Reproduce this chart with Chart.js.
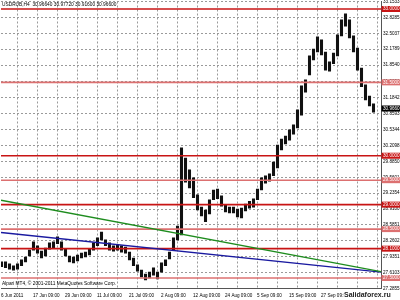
<!DOCTYPE html>
<html>
<head>
<meta charset="utf-8">
<script src="https://cdn.jsdelivr.net/npm/chart.js@4.4.0/dist/chart.umd.min.js"></script>
<style>
  html, body { margin: 0; padding: 0; background: #fff; }
</style>
</head>
<body>
<canvas id="grafico" width="400" height="300"></canvas>
<script>
// Máximos y mínimos diarios (USDRUB, un valor por día hábil)
const maximos = [
    27.83, 27.83, 27.79, 27.75, 27.79, 27.87, 27.93, 28.07, 28.24, 28.16,
    28.05, 28.11, 28.22, 28.24, 28.34, 28.24, 28.09, 27.95, 27.93, 27.97,
    28.01, 28.03, 28.09, 28.22, 28.32, 28.44, 28.28, 28.22, 28.16, 28.18,
    28.16, 28.13, 28.03, 27.91, 27.77, 27.66, 27.58, 27.62, 27.71, 27.62,
    27.81, 27.87, 28.03, 28.32, 28.56, 30.16, 29.95, 29.71, 29.55, 29.20,
    28.95, 28.89, 29.10, 29.30, 29.32, 29.18, 28.99, 28.95, 28.95, 28.91,
    28.93, 29.01, 29.07, 29.12, 29.32, 29.55, 29.59, 29.63, 29.87, 30.22,
    30.34, 30.40, 30.53, 30.63, 30.94, 31.43, 31.55, 32.04, 32.18, 32.43,
    32.37, 32.12, 31.92, 32.10, 32.47, 32.78, 32.90, 32.78, 32.45, 32.20,
    31.79, 31.45, 31.22, 31.06
];
const minimos = [
    27.73, 27.71, 27.68, 27.66, 27.68, 27.75, 27.83, 27.95, 28.07, 28.01,
    27.91, 27.95, 28.09, 28.11, 28.20, 28.07, 27.95, 27.83, 27.81, 27.85,
    27.91, 27.93, 27.97, 28.07, 28.16, 28.28, 28.16, 28.07, 28.05, 28.07,
    28.03, 28.01, 27.87, 27.75, 27.64, 27.52, 27.46, 27.50, 27.56, 27.48,
    27.62, 27.75, 27.89, 28.07, 28.28, 28.38, 29.46, 29.34, 29.14, 28.89,
    28.77, 28.65, 28.81, 29.10, 29.12, 28.97, 28.85, 28.83, 28.83, 28.75,
    28.73, 28.87, 28.93, 28.95, 29.10, 29.30, 29.44, 29.48, 29.59, 29.75,
    30.12, 30.24, 30.32, 30.44, 30.57, 30.83, 31.30, 31.65, 31.96, 32.12,
    32.06, 31.75, 31.73, 31.88, 32.04, 32.45, 32.65, 32.41, 32.12, 31.75,
    31.41, 31.14, 31.02, 30.89
];

// Niveles horizontales (rojo oscuro y rojo claro)
const nivelesOscuros = [33.0, 30.0, 29.0, 28.1];
const nivelesClaros = [31.5, 29.5, 28.5, 27.5];

// Líneas de tendencia: [día inicio, precio inicio, día fin, precio fin]
const tendenciaVerde = [1.375, 29.09, 96.375, 27.63];
const tendenciaAzul = [1.375, 28.43, 96.375, 27.62];

// Eje de precios
const preciosEje = [
    33.1533, 32.8285, 32.5037, 32.1789, 31.8540, 31.5091, 31.1842, 30.8593,
    30.5344, 30.2098, 29.8850, 29.5601, 29.2354, 28.9100, 28.5851, 28.2602,
    27.9351, 27.6103, 27.2855
];
const precioMin = 27.2855;
const precioMax = 33.1533;

// Eje de tiempo (en días hábiles desde el 6 Jun)
const diaMin = 1.375;
const diaMax = 96.375;
const diasEtiquetas = [1.375, 9.375, 17.375, 25.375, 33.375, 41.375, 49.375, 57.375, 65.375, 73.375, 81.375];
const textosEtiquetas = ['6 Jun 2011', '17 Jun 09:00', '29 Jun 09:00', '11 Jul 09:00', '21 Jul 09:00',
    '2 Aug 09:00', '12 Aug 09:00', '24 Aug 09:00', '5 Sep 09:00', '15 Sep 09:00', '27 Sep 09:00'];
const diasRejilla = [5.5, 10.5, 15.5, 20.5, 25.5, 30.5, 35.5, 40.5, 45.5, 50.5,
    55.5, 60.5, 65.5, 70.5, 75.5, 80.5, 85.5, 90.5, 95.5];

// Última vela (cabecera) y precio actual
const ultimaVela = [30.9664, 30.9772, 30.9160, 30.9660];
const precioActual = 30.9660;

const rojoOscuro = '#c81414';
const rojoClaro = '#dc7070';
const fuente = 'Liberation Sans';

function crearNivel(valor, color) {
    return {
        type: 'line',
        data: [{ x: diaMin, y: valor }, { x: diaMax, y: valor }],
        borderColor: color,
        borderWidth: 1.6,
        pointRadius: 0,
        order: 1
    };
}

function crearTendencia(t, color) {
    return {
        type: 'line',
        data: [{ x: t[0], y: t[1] }, { x: t[2], y: t[3] }],
        borderColor: color,
        borderWidth: 1.3,
        pointRadius: 0,
        order: 0
    };
}

const velas = maximos.map((alto, i) => ({ x: i + 1.5, y: [minimos[i], alto] }));

// Textos y cajas de precio dibujados sobre el gráfico
const textosMT4 = {
    id: 'textosMT4',
    afterDraw(chart) {
        const ctx = chart.ctx;
        const yEje = chart.scales.y;
        ctx.save();
        ctx.textBaseline = 'middle';
        ctx.textAlign = 'left';
        ctx.font = '4.8px "' + fuente + '"';
        ctx.fillStyle = '#000';
        ctx.fillText('USDRUB,H4  ' + ultimaVela.map(v => v.toFixed(5)).join(' '), 2, 5);
        ctx.fillText('Alpari MT4, © 2001-2011 MetaQuotes Software Corp.', 2, 284);

        function caja(valor, fondo) {
            const y = yEje.getPixelForValue(valor);
            ctx.fillStyle = fondo;
            ctx.fillRect(381.5, y - 3, 19, 6);
            ctx.fillStyle = '#fff';
            ctx.font = '4.6px "' + fuente + '"';
            ctx.fillText(valor.toFixed(4), 383, y);
        }
        nivelesOscuros.forEach(v => caja(v, rojoOscuro));
        nivelesClaros.forEach(v => caja(v, rojoClaro));
        caja(precioActual, '#000');

        ctx.font = 'bold 7px "' + fuente + '"';
        ctx.lineWidth = 2;
        ctx.strokeStyle = '#fff';
        ctx.strokeText('Salidaforex.ru', 344, 295);
        ctx.fillStyle = '#222';
        ctx.fillText('Salidaforex.ru', 344, 295);
        ctx.restore();
    }
};

const ctx = document.getElementById('grafico').getContext('2d');
new Chart(ctx, {
    type: 'bar',
    data: {
        datasets: [
            ...nivelesOscuros.map(v => crearNivel(v, rojoOscuro)),
            ...nivelesClaros.map(v => crearNivel(v, rojoClaro)),
            crearTendencia(tendenciaVerde, '#1e8c1e'),
            crearTendencia(tendenciaAzul, '#1a1aa0'),
            {
                type: 'bar',
                data: velas,
                backgroundColor: '#111',
                barThickness: 2.4,
                order: 10
            }
        ]
    },
    options: {
        responsive: false,
        animation: false,
        layout: { padding: { left: 1, top: 1.5, right: 0, bottom: 0 } },
        plugins: { legend: { display: false }, tooltip: { enabled: false } },
        scales: {
            x: {
                type: 'linear',
                position: 'bottom',
                offset: false,
                min: diaMin,
                max: diaMax,
                afterBuildTicks: s => { s.ticks = diasRejilla.map(v => ({ value: v })); },
                afterFit: s => { s.height = 0; s.paddingLeft = 0; s.paddingRight = 0; },
                grid: { offset: false, color: '#9a9a9a', lineWidth: 1, drawTicks: false },
                border: { display: false, dash: [2, 2] },
                ticks: { display: false }
            },
            xt: {
                type: 'linear',
                position: 'bottom',
                offset: false,
                min: diaMin,
                max: diaMax,
                afterBuildTicks: s => { s.ticks = diasEtiquetas.map(v => ({ value: v })); },
                afterFit: s => { s.height = 11.5; s.paddingLeft = 0; s.paddingRight = 0; },
                grid: { display: false, offset: false, drawTicks: false },
                border: { display: true, color: '#555', width: 1 },
                ticks: {
                    autoSkip: false,
                    maxRotation: 0,
                    minRotation: 0,
                    align: 'start',
                    padding: 4,
                    color: '#000',
                    font: { size: 4.6, family: fuente },
                    callback: (v, i) => textosEtiquetas[i]
                }
            },
            y: {
                type: 'linear',
                position: 'right',
                min: precioMin,
                max: precioMax,
                afterBuildTicks: s => { s.ticks = preciosEje.map(v => ({ value: v })); },
                afterFit: s => { s.width = 19; s.paddingTop = 0; s.paddingBottom = 0; },
                grid: { color: '#9a9a9a', lineWidth: 1, drawTicks: false },
                border: { display: true, color: '#555', width: 1, dash: [2, 2] },
                ticks: {
                    autoSkip: false,
                    padding: 2,
                    color: '#000',
                    font: { size: 4.6, family: fuente },
                    callback: v => v.toFixed(4)
                }
            }
        }
    },
    plugins: [textosMT4]
});
</script>
</body>
</html>
